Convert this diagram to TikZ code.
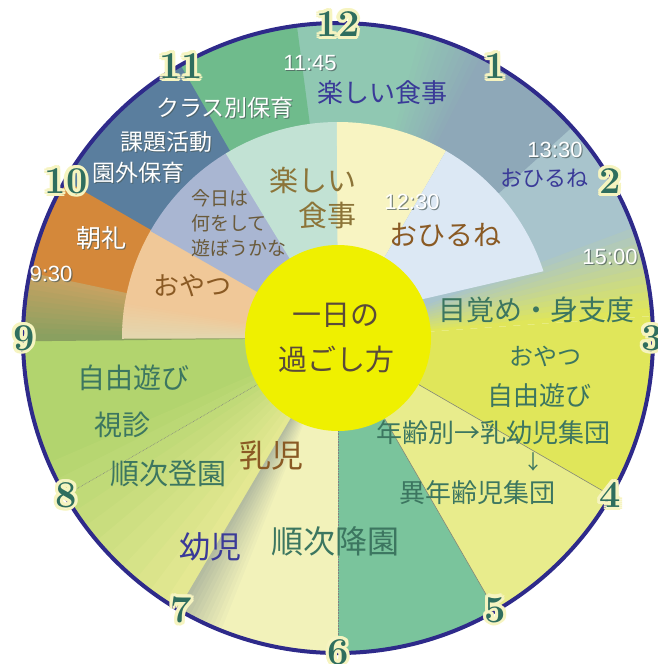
\documentclass[tikz,border=0pt]{standalone}
\usepackage{fontspec}
\usepackage{xcolor}
\usepackage{tikz}
\usetikzlibrary{calc}
\newfontfamily\jp{Noto Sans CJK JP}
\newfontfamily\clockfont{Liberation Sans}
% sector colours
\definecolor{grnleft}{HTML}{B2D46E}
\definecolor{limeleft}{HTML}{E4E892}
\definecolor{paleA}{HTML}{F2F2BA}
\definecolor{shadowA}{HTML}{B4BCA0}
\definecolor{grnsix}{HTML}{7AC49C}
\definecolor{paleB}{HTML}{E8EC8C}
\definecolor{yelright}{HTML}{E0E65A}
\definecolor{greyblueB}{HTML}{A8C4CC}
\definecolor{greyblueA}{HTML}{8EA8B8}
\definecolor{tealtop}{HTML}{90C8B2}
\definecolor{grnclass}{HTML}{6FBB8C}
\definecolor{steel}{HTML}{5A7E9E}
\definecolor{orange}{HTML}{D4883A}
\definecolor{tan}{HTML}{C6A262}
\definecolor{olive}{HTML}{8AA060}
\definecolor{peach}{HTML}{F0C898}
\definecolor{peachlow}{HTML}{E4D6AE}
\definecolor{lavender}{HTML}{A9B6D2}
\definecolor{mint}{HTML}{C2E2D4}
\definecolor{cream}{HTML}{F8F4C2}
\definecolor{skyblue}{HTML}{DCE8F4}
\definecolor{sun}{HTML}{EFF000}
% line and text colours
\definecolor{rimblue}{HTML}{2E2A8A}
\definecolor{numteal}{HTML}{2F6E5E}
\definecolor{glow}{HTML}{F6F4C0}
\definecolor{grntxt}{HTML}{3C7660}
\definecolor{navytxt}{HTML}{3A3A98}
\definecolor{browntxt}{HTML}{8A5A24}
\definecolor{olivetxt}{HTML}{8C7438}
\definecolor{greytxt}{HTML}{6A5A3A}
\definecolor{titletxt}{HTML}{5A4A3A}
\definecolor{shade}{HTML}{4A5A5A}

% ring piece: colour, from angle, to angle, inner radius, outer radius
\newcommand\ringpart[5]{\fill[#1] (#2:#4) arc[start angle=#2,end angle=#3,radius=#4]
  -- (#3:#5) arc[start angle=#3,end angle=#2,radius=#5] -- cycle;}
% same, fading from colour A to colour B in 12 steps
\newcommand\ringfade[6]{\foreach \k in {0,...,11}{
    \pgfmathsetmacro\aa{#3+(#4-#3)*\k/12}
    \pgfmathsetmacro\ab{#3+(#4-#3)*(\k+1)/12+0.4}
    \pgfmathtruncatemacro\pp{100-100*\k/11}
    \ringpart{#1!\pp!#2}{\aa}{\ab}{#5}{#6}}}
% white label with a soft shadow
\newcommand\whitelab[4]{%
  \node[#3,text=shade,opacity=0.7] (#1-s) at ($(#2)+(1.2,-1.2)$) {#4};
  \node[#3,text=white] (#1) at (#2) {#4};}

\tikzset{
  jplab/.style={font=\jp\fontsize{#1}{#1}\selectfont, inner sep=0pt},
  timelab/.style={font=\clockfont\fontsize{22}{22}\selectfont, inner sep=0pt},
  hournum/.style={font=\fontsize{38}{38}\selectfont\bfseries, text=numteal, inner sep=0pt},
  hourglow/.style={hournum, text=glow},
  rimline/.style={draw=rimblue, line width=4pt},
  splitline/.style={draw=gray!80!olive, line width=0.6pt},
  dotline/.style={draw=gray, line width=0.6pt, densely dotted},
}

\begin{document}
\begin{tikzpicture}[x=1pt,y=1pt]
\useasboundingbox (0,0) rectangle (658,-664);

\begin{scope}[shift={(338,-338)}]
% lower half, full radius
\ringpart{grnleft}{180}{201}{1}{315}
\ringfade{grnleft}{limeleft}{200}{240}{1}{315}
\ringpart{paleA}{240}{270.3}{1}{315}
\ringfade{shadowA}{paleA}{239.5}{249}{1}{315}
\ringpart{grnsix}{270}{300.3}{1}{315}
\ringpart{paleB}{300}{330.3}{1}{315}
\ringpart{yelright}{330}{364}{1}{315}
\ringfade{yelright}{greyblueB}{4}{22}{1}{315}

% upper half, outer ring
\ringpart{greyblueB}{21}{42.3}{1}{315}
\ringpart{greyblueA}{42}{62.3}{1}{315}
\ringfade{greyblueA}{tealtop}{62}{76}{1}{315}
\ringpart{tealtop}{75.5}{97.8}{1}{315}
\ringpart{grnclass}{97.5}{120.3}{1}{315}
\ringpart{steel}{120}{150.3}{1}{315}
\ringpart{orange}{150}{168.3}{1}{315}
\ringfade{tan}{olive}{168}{180.2}{1}{315}

% upper half, inner ring
\ringpart{peach}{150}{170.3}{1}{216}
\ringfade{peach}{peachlow}{170}{179.8}{1}{216}
\ringpart{lavender}{121}{150.3}{1}{216}
\ringpart{mint}{90}{121.3}{1}{216}
\ringpart{cream}{60}{90.3}{1}{216}
\fill[skyblue] (26.6:80) -- (18:216) arc[start angle=18,end angle=60,radius=216] -- (60:80) -- cycle;

% thin split lines
\draw[dotline] (210:93) -- (210:315);
\draw[dotline] (270:93) -- (270:315);
\draw[splitline] (300:93) -- (300:315);
\draw[splitline] (330:93) -- (330:315);

% centre disc and rim
\fill[sun] (0,0) circle (93);
\draw[rimline] (0,0) circle (315);

% clock numbers
\foreach \h in {1,...,12}{
  \coordinate (p\h) at ({90-30*\h}:314);
  \foreach \a in {0,30,...,330}
    \node[hourglow] (g\h-\a) at ($(p\h)+(\a:3.2)$) {\h};
  \node[hournum] (n\h) at (p\h) {\h};
}
\end{scope}

% times and labels, outer ring
\whitelab{t1145}{310,-63}{timelab}{11:45}
\node[jplab=26, text=navytxt] (tlunch) at (382,-93) {楽しい食事};
\whitelab{tclass}{225,-108}{jplab=23}{クラス別保育}
\whitelab{ttask}{166,-142}{jplab=23}{課題活動}
\whitelab{tout}{138,-173}{jplab=23}{園外保育}
\whitelab{tmorning}{101,-238}{jplab=25}{朝礼}
\whitelab{t930}{51,-274}{timelab}{9:30}
\whitelab{t1330}{555,-150}{timelab}{13:30}
\node[jplab=22, text=navytxt] (tnapout) at (544,-178) {おひるね};
\whitelab{t1500}{610,-257}{timelab}{15:00}

% inner ring
\node[jplab=26, text=browntxt] (tsnackl) at (192,-286) {おやつ};
\node[font=\jp\fontsize{19}{25}\selectfont, inner sep=0pt, align=left, anchor=west, text=greytxt]
  (ttoday) at (191,-223) {今日は\\何をして\\遊ぼうかな};
\node[font=\jp\fontsize{29}{35}\selectfont, inner sep=0pt, align=right, anchor=east, text=olivetxt]
  (tlunchin) at (357,-198) {楽しい\\食事};
\whitelab{t1230}{412,-202}{timelab}{12:30}
\node[jplab=28, text=browntxt] (tnapin) at (445,-235) {おひるね};

% right side
\node[jplab=28, text=grntxt] (twake) at (536,-310) {目覚め・身支度};
\node[jplab=24, text=grntxt] (tsnackr) at (545,-356) {おやつ};
\node[jplab=26, text=grntxt] (tplayr) at (539,-396) {自由遊び};
\node[jplab=26, text=grntxt] (tgroup) at (493,-433) {年齢別→乳幼児集団};
\node[jplab=20, text=grntxt] (tdown) at (533,-462) {↓};
\node[jplab=26, text=grntxt] (tmixed) at (477,-493) {異年齢児集団};

% lower left
\node[jplab=32, text=grntxt] (tleave) at (335,-541) {順次降園};
\node[jplab=32, text=browntxt] (tinfant) at (271,-455) {乳児};
\node[jplab=31, text=navytxt] (tchild) at (210,-547) {幼児};
\node[jplab=29, text=grntxt] (tarrive) at (168,-474) {順次登園};
\node[jplab=28, text=grntxt] (tcheck) at (122,-425) {視診};
\node[jplab=28, text=grntxt] (tplayl) at (133,-378) {自由遊び};

% centre title
\node[font=\jp\fontsize{29}{45}\selectfont, inner sep=0pt, align=center, text=titletxt]
  (ttitle) at (336,-338) {一日の\\過ごし方};
\end{tikzpicture}
\end{document}
